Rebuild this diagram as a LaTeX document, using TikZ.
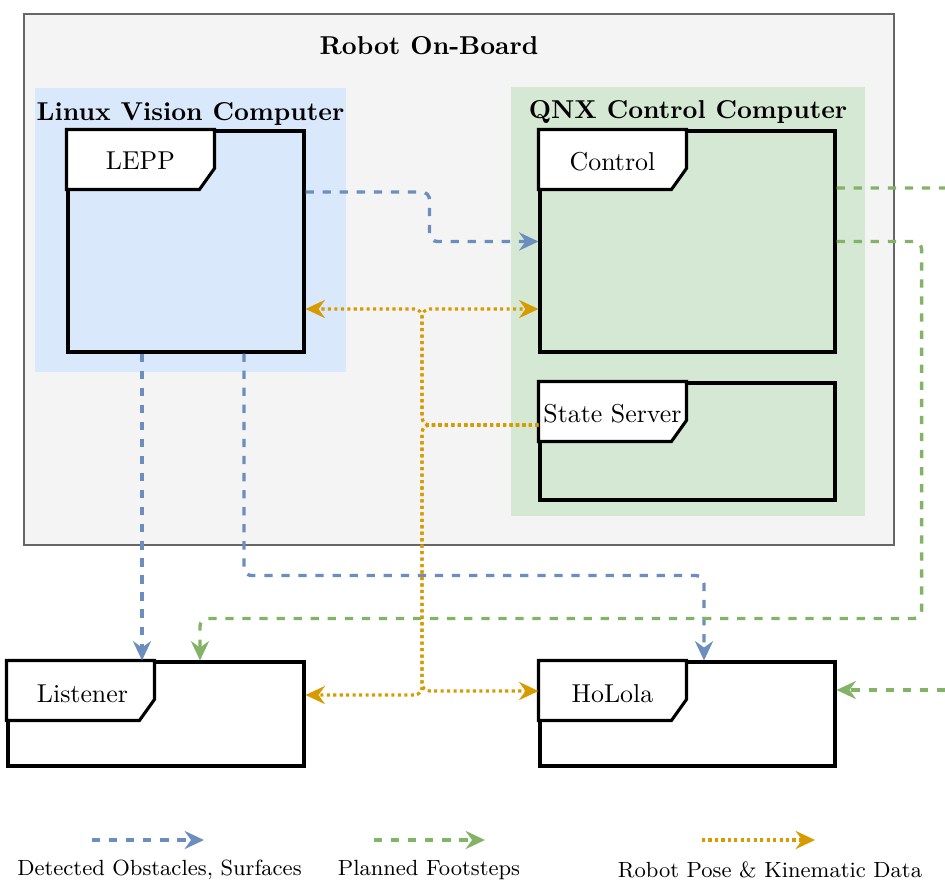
\documentclass[tikz,border=0pt]{standalone}
\usetikzlibrary{arrows.meta,calc,fit}

\definecolor{obstblue}{HTML}{6C8EBF}
\definecolor{stepgreen}{HTML}{82B366}
\definecolor{poseorange}{HTML}{D79B00}
\definecolor{linuxfill}{HTML}{DAE8FC}
\definecolor{qnxfill}{HTML}{D5E8D4}
\definecolor{boardfill}{HTML}{F4F4F4}
\definecolor{boardline}{HTML}{666666}

\tikzset{
	region/.style={inner sep=0pt, fill=#1},
	frame/.style={draw, line width=1.2pt, inner sep=0pt},
	tab/.style={draw, line width=1.2pt, fill=white},
	lbl/.style={font=\normalsize},
	title/.style={font=\bfseries},
	tip/.style={-{Stealth[length=7.5pt,width=7pt,inset=2.5pt]}},
	obst/.style={tip, draw=obstblue, line width=1.3pt, dash pattern=on 3.2pt off 3.4pt, rounded corners=3pt},
	steps/.style={tip, draw=stepgreen, line width=1.3pt, dash pattern=on 3.2pt off 3.4pt, rounded corners=3pt},
	pose/.style={tip, draw=poseorange, line width=1.2pt, dash pattern=on 1.2pt off 1.3pt, rounded corners=3pt},
	legend/.style={font=\fontsize{8.5}{10}\selectfont}
}

\begin{document}
\begin{tikzpicture}[x=0.0136cm, y=-0.0136cm]
		\useasboundingbox (0,0) rectangle (945,879);
		
		% computers
		\node[region=boardfill, draw=boardline, line width=0.6pt, fit={(24,14) (894,545)}] (board) {};
		\node[title] (board-lbl) at (429,46) {Robot On-Board};
		\node[region=linuxfill, fit={(35,88) (346,372)}] (linux) {};
		\node[title] (linux-lbl) at (190.5,114) {Linux Vision Computer};
		\node[region=qnxfill, fit={(511,87) (865,516)}] (qnx) {};
		\node[title] (qnx-lbl) at (688,112) {QNX Control Computer};
		
		% frames
		\node[frame, fit={(68,131) (304,352)}] (lepp) {};
		\draw[tab] (lepp.north west) -- ++(148,0) -- ++(0,39) -- ++(-15,21) -- ++(-133,0) -- cycle;
		\node[lbl] (lepp-lbl) at ($(lepp.north west)+(74,31)$) {LEPP};
		
		\node[frame, fit={(540,131) (835,352)}] (control) {};
		\draw[tab] (control.north west) -- ++(148,0) -- ++(0,39) -- ++(-15,21) -- ++(-133,0) -- cycle;
		\node[lbl] (control-lbl) at ($(control.north west)+(74,32)$) {Control};
		
		\node[frame, fit={(540,383) (835,500)}] (ss) {};
		\draw[tab] (ss.north west) -- ++(148,0) -- ++(0,39) -- ++(-15,21) -- ++(-133,0) -- cycle;
		\node[lbl] (ss-lbl) at ($(ss.north west)+(74,32)$) {State Server};
		
		\node[frame, fit={(8,662) (304,766)}] (listener) {};
		\draw[tab] (listener.north west) -- ++(148,0) -- ++(0,39) -- ++(-15,21) -- ++(-133,0) -- cycle;
		\node[lbl] (listener-lbl) at ($(listener.north west)+(76,33)$) {Listener};
		
		\node[frame, fit={(540,662) (835,766)}] (hololens) {};
		\draw[tab] (hololens.north west) -- ++(148,0) -- ++(0,39) -- ++(-15,21) -- ++(-133,0) -- cycle;
		\node[lbl] (hololens-lbl) at ($(hololens.north west)+(74,33)$) {HoLola};
		
		% obstacles, surfaces
		\draw[obst] ($(lepp.east)+(0,-49.5)$) -- ++(124,0) |- (control.west);
		\draw[obst] ($(lepp.south)+(-44,0)$) coordinate (lepp-s1) -- (lepp-s1 |- listener.north);
		\draw[obst] ($(lepp.south)+(58,0)$) -- ++(0,222) -| ($(hololens.north)+(16.5,0)$);
		
		% footsteps
		\coordinate (steps-out) at (945,188);
		\coordinate (steps-in) at (945,690);
		\draw[draw=stepgreen, line width=1.3pt, dash pattern=on 3.2pt off 3.4pt] ($(control.east)+(0,-53.5)$) -- (steps-out);
		\draw[steps] (control.east) -- ++(85,0) -- ++(0,377) -| ($(listener.north)+(44,0)$);
		\draw[steps] (steps-in) -- (hololens.east |- steps-in);
		
		% robot pose
		\coordinate (bus) at (422,425);
		\draw[pose] ($(ss.west)+(0,-16.5)$) -- (bus) |- ($(lepp.east)+(0,67.5)$);
		\draw[pose] ($(ss.west)+(0,-16.5)$) -- (bus) |- ($(control.west)+(0,67.5)$);
		\draw[pose] ($(ss.west)+(0,-16.5)$) -- (bus) |- ($(listener.east)+(0,-19)$);
		\draw[pose] ($(ss.west)+(0,-16.5)$) -- (bus) |- ($(hololens.west)+(0,-23)$);
		
		% legend
		\coordinate (key1-a) at (92,840);
		\coordinate (key1-b) at (204,840);
		\coordinate (key2-a) at (374,840);
		\coordinate (key2-b) at (485,840);
		\coordinate (key3-a) at (702,840);
		\coordinate (key3-b) at (815,840);
		\draw[obst] (key1-a) -- (key1-b);
		\draw[steps] (key2-a) -- (key2-b);
		\draw[pose] (key3-a) -- (key3-b);
		\node[legend] (key1) at (159.5,870) {Detected Obstacles, Surfaces};
		\node[legend] (key2) at (429,870) {Planned Footsteps};
		\node[legend] (key3) at (770,870) {Robot Pose \& Kinematic Data};
		\end{tikzpicture}
\end{document}
